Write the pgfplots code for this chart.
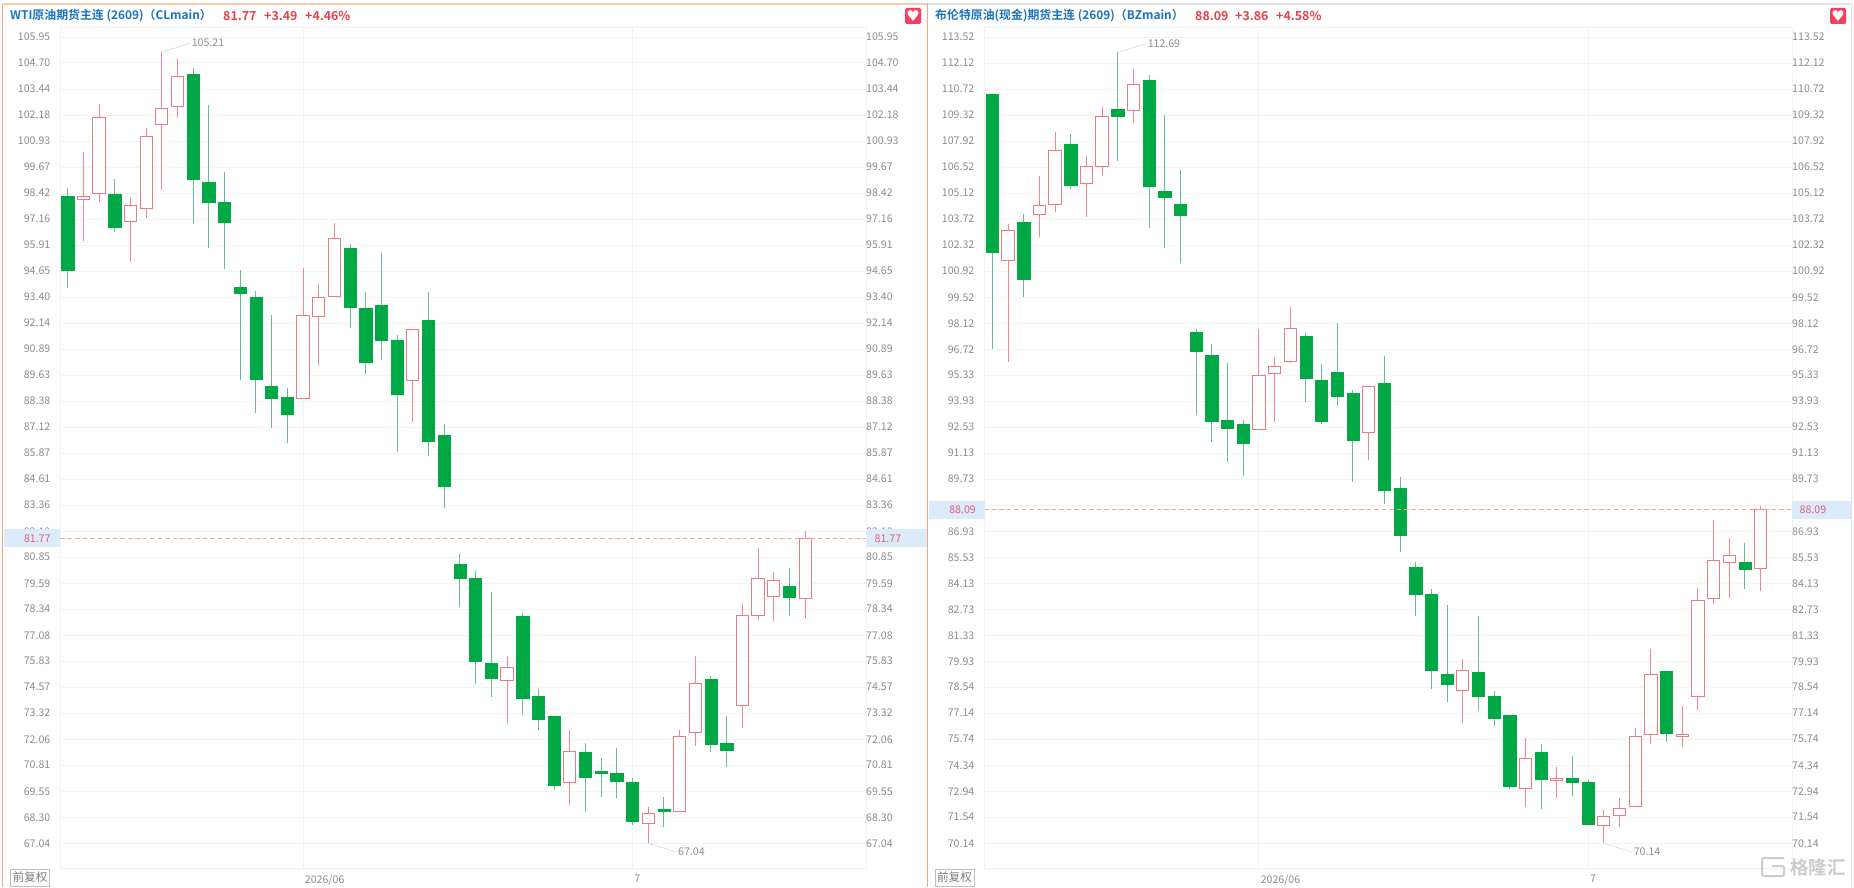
\documentclass[border=0pt]{standalone}
\usepackage{fontspec}
\setmainfont{Noto Sans CJK SC}[BoldFont={Noto Sans CJK SC Bold}]
\newfontfamily\dejavu{DejaVu Sans}
\usepackage{pgfplots}
\pgfplotsset{compat=1.18}
\definecolor{tickc}{HTML}{8C8C8C}
\definecolor{gridc}{HTML}{F3F3F3}
\definecolor{upc}{HTML}{EC7A82}
\definecolor{upw}{HTML}{EE8890}
\definecolor{dnc}{HTML}{00A846}
\definecolor{dnw}{HTML}{68BC92}
\definecolor{titleb}{HTML}{1B75BC}
\definecolor{redt}{HTML}{E8414A}
\definecolor{framec}{HTML}{F2A878}
\definecolor{framet}{HTML}{F6CDA8}
\definecolor{frameg}{HTML}{E4E4E4}
\definecolor{tagb}{HTML}{DCEBFB}
\definecolor{tagt}{HTML}{E0616A}
\definecolor{heart}{HTML}{F4405F}
\definecolor{dashc}{HTML}{F5A873}
% #1 position, #2 low, #3 body bottom, #4 body top, #5 high
\newcommand\up[5]{%
  \pgfmathsetmacro\xl{#1-0.39}\pgfmathsetmacro\xr{#1+0.39}%
  \addplot[upw,line width=1pt,forget plot] coordinates {(#1,#2)(#1,#5)};
  \addplot[draw=upc,fill=white,line width=1pt,forget plot] coordinates {(\xl,#3)(\xr,#3)(\xr,#4)(\xl,#4)} -- cycle;
}
\newcommand\dn[5]{%
  \pgfmathsetmacro\xl{#1-0.39}\pgfmathsetmacro\xr{#1+0.39}%
  \addplot[dnw,line width=1pt,forget plot] coordinates {(#1,#2)(#1,#5)};
  \addplot[draw=dnc,fill=dnc,line width=.6pt,forget plot] coordinates {(\xl,#3)(\xr,#3)(\xr,#4)(\xl,#4)} -- cycle;
}
\pgfplotsset{
  kbase/.style={
    scale only axis, width=#1, height=841pt, anchor=south west,
    major tick length=0pt, tick style={draw=none},
    axis line style={draw=gridc},
    grid=major, grid style={draw=gridc,line width=.8pt},
    tick label style={font=\fontsize{10.6}{12}\selectfont,text=tickc},
    /pgf/number format/.cd,assume math mode=true,fixed,fixed zerofill,precision=2,set thousands separator={},
    /pgfplots/.cd,
    yticklabel style={inner sep=0pt,xshift=-9.5pt},
    xticklabel style={inner sep=0pt,anchor=north west,xshift=1.7pt,yshift=-6.5pt},
    clip=false,
  },
  rlabels/.style={
    hide x axis, axis y line*=right, axis line style={draw=none},
    grid=none, xtick=\empty,
    yticklabel style={inner sep=0pt,xshift=9.5pt,anchor=west},
  }
}
\begin{document}
\begin{tikzpicture}
\path[use as bounding box,fill=white] (0pt,0pt) rectangle (1854pt,887pt);
% ---------- frames
\draw[framet,line width=1.4pt] (2.7pt,883pt) -- (927.7pt,883pt);
\draw[framec,line width=1.2pt] (2.7pt,883pt) -- (2.7pt,0pt);
\draw[framec,line width=1.2pt] (927.7pt,883pt) -- (927.7pt,0pt);
\draw[frameg,line width=1.2pt] (928pt,883pt) -- (1851.7pt,883pt) -- (1851.7pt,0pt);
% ---------- WTI
\def\wtiticks{105.95,104.70,103.44,102.18,100.93,99.67,98.42,97.16,95.91,94.65,93.40,92.14,90.89,89.63,88.38,87.12,85.87,84.61,83.36,82.10,80.85,79.59,78.34,77.08,75.83,74.57,73.32,72.06,70.81,69.55,68.30,67.04}
\begin{axis}[kbase=806pt, at={(60pt,19pt)},
  xmin=-0.49, xmax=50.88, ymin=65.85, ymax=106.43,
  xtick={15,36}, xticklabels={2026/06,7},
  ytick=\wtiticks]
\dn{0}{93.85}{94.67}{98.24}{98.65}
\up{1}{96.12}{98.12}{98.26}{100.39}
\up{2}{97.97}{98.41}{102.06}{102.70}
\dn{3}{96.52}{96.77}{98.37}{99.08}
\up{4}{95.11}{97.06}{97.83}{98.17}
\up{5}{97.21}{97.68}{101.17}{101.54}
\up{6}{98.57}{101.74}{102.51}{105.21}
\up{7}{102.10}{102.59}{104.05}{104.89}
\dn{8}{96.94}{99.08}{104.15}{104.44}
\dn{9}{95.77}{97.99}{98.95}{102.65}
\dn{10}{94.74}{96.99}{97.99}{99.43}
\dn{11}{89.40}{93.58}{93.87}{94.71}
\dn{12}{87.79}{89.41}{93.39}{93.71}
\dn{13}{87.09}{88.53}{89.11}{92.53}
\dn{14}{86.34}{87.76}{88.56}{89.01}
\up{15}{88.49}{88.49}{92.49}{94.79}
\up{16}{90.12}{92.45}{93.39}{94.02}
\up{17}{93.44}{93.44}{96.24}{96.99}
\dn{18}{91.91}{92.91}{95.77}{95.95}
\dn{19}{89.67}{90.25}{92.84}{93.66}
\dn{20}{90.36}{91.29}{93.00}{95.51}
\dn{21}{85.94}{88.72}{91.29}{91.55}
\up{22}{87.38}{89.38}{91.84}{91.87}
\dn{23}{85.73}{86.44}{92.26}{93.66}
\dn{24}{83.20}{84.28}{86.73}{87.26}
\dn{25}{78.43}{79.81}{80.52}{81.00}
\dn{26}{74.74}{75.84}{79.81}{80.18}
\dn{27}{74.10}{75.00}{75.72}{79.18}
\up{28}{72.81}{74.88}{75.53}{76.08}
\dn{29}{73.23}{74.06}{78.01}{78.14}
\dn{30}{72.51}{73.04}{74.15}{74.47}
\dn{31}{69.62}{69.85}{73.15}{73.15}
\up{32}{68.89}{69.96}{71.48}{72.51}
\dn{33}{68.56}{70.25}{71.44}{71.86}
\dn{34}{69.29}{70.40}{70.51}{71.14}
\dn{35}{69.21}{70.01}{70.44}{71.62}
\dn{36}{67.92}{68.08}{70.00}{70.17}
\up{37}{67.04}{68.02}{68.47}{68.80}
\dn{38}{67.81}{68.60}{68.69}{69.26}
\up{39}{68.58}{68.58}{72.20}{72.51}
\up{40}{71.75}{72.38}{74.76}{76.08}
\dn{41}{71.43}{71.82}{74.95}{75.13}
\dn{42}{70.73}{71.51}{71.86}{73.18}
\up{43}{72.62}{73.70}{78.01}{78.59}
\up{44}{77.81}{78.04}{79.83}{81.30}
\up{45}{77.75}{78.97}{79.71}{80.15}
\dn{46}{78.01}{78.91}{79.44}{80.31}
\up{47}{77.93}{78.86}{81.77}{82.12}
\addplot[dashc,dash pattern=on 4.5pt off 3pt,line width=1.1pt,forget plot] coordinates {(-0.49,81.77)(50.88,81.77)};
\draw[gridc!70!gray,line width=.5pt] (axis cs:6,105.21) -- (axis cs:7.8,105.65);
\node[anchor=west,inner sep=0pt,text=tickc,font=\fontsize{10.6}{12}\selectfont] at (axis cs:7.9,105.65) {105.21};
\draw[gridc!70!gray,line width=.5pt] (axis cs:37,67.04) -- (axis cs:38.8,66.62);
\node[anchor=west,inner sep=0pt,text=tickc,font=\fontsize{10.6}{12}\selectfont] at (axis cs:38.9,66.62) {67.04};
\end{axis}
\begin{axis}[kbase=806pt, rlabels, at={(60pt,19pt)},
  xmin=-0.49, xmax=50.88, ymin=65.85, ymax=106.43, ytick=\wtiticks]
\end{axis}
% ---------- Brent
\def\brtticks{113.52,112.12,110.72,109.32,107.92,106.52,105.12,103.72,102.32,100.92,99.52,98.12,96.72,95.33,93.93,92.53,91.13,89.73,88.33,86.93,85.53,84.13,82.73,81.33,79.93,78.54,77.14,75.74,74.34,72.94,71.54,70.14}
\def\brtlabels{113.52,112.12,110.72,109.32,107.92,106.52,105.12,103.72,102.32,100.92,99.52,98.12,96.72,95.33,93.93,92.53,91.13,89.73,,86.93,85.53,84.13,82.73,81.33,79.93,78.54,77.14,75.74,74.34,72.94,71.54,70.14}
\begin{axis}[kbase=808pt, at={(984pt,19pt)},
  xmin=-0.53, xmax=51, ymin=68.81, ymax=114.06,
  xtick={17,38}, xticklabels={2026/06,7},
  ytick=\brtticks, yticklabels/.expanded={\brtlabels}]
\dn{0}{96.72}{101.95}{110.45}{110.45}
\up{1}{96.05}{101.51}{103.12}{103.44}
\dn{2}{99.52}{100.47}{103.57}{103.98}
\up{3}{102.78}{103.98}{104.43}{106.04}
\up{4}{104.09}{104.52}{107.44}{108.43}
\dn{5}{105.33}{105.54}{107.76}{108.30}
\up{6}{103.82}{105.65}{106.56}{107.12}
\up{7}{106.04}{106.56}{109.25}{109.74}
\dn{8}{106.85}{109.27}{109.63}{112.69}
\up{9}{108.88}{109.58}{110.99}{111.80}
\dn{10}{103.26}{105.47}{111.21}{111.49}
\dn{11}{102.17}{104.87}{105.22}{109.31}
\dn{12}{101.34}{103.94}{104.54}{106.36}
\dn{13}{93.17}{96.59}{97.61}{97.79}
\dn{14}{91.71}{92.86}{96.40}{96.99}
\dn{15}{90.64}{92.48}{92.91}{95.96}
\dn{16}{89.90}{91.68}{92.66}{92.91}
\up{17}{92.41}{92.41}{95.32}{97.81}
\up{18}{92.82}{95.43}{95.78}{96.32}
\up{19}{96.00}{96.05}{97.85}{99.01}
\dn{20}{93.88}{95.14}{97.43}{97.58}
\dn{21}{92.70}{92.86}{95.07}{95.93}
\dn{22}{93.67}{94.21}{95.50}{98.12}
\dn{23}{89.60}{91.84}{94.35}{94.53}
\up{24}{90.76}{92.25}{94.73}{94.76}
\dn{25}{88.38}{89.11}{94.89}{96.36}
\dn{26}{85.80}{86.69}{89.26}{89.86}
\dn{27}{82.39}{83.52}{85.01}{85.29}
\dn{28}{78.44}{79.45}{83.54}{83.81}
\dn{29}{77.76}{78.70}{79.21}{82.96}
\up{30}{76.60}{78.35}{79.45}{80.04}
\dn{31}{77.24}{78.03}{79.34}{82.39}
\dn{32}{76.45}{76.88}{78.05}{78.35}
\dn{33}{73.06}{73.19}{77.01}{77.01}
\up{34}{72.11}{73.10}{74.71}{75.82}
\dn{35}{71.97}{73.58}{75.04}{75.47}
\up{36}{72.59}{73.53}{73.64}{74.26}
\dn{37}{72.69}{73.40}{73.64}{74.85}
\dn{38}{71.11}{71.14}{73.40}{73.55}
\up{39}{70.14}{71.11}{71.56}{71.93}
\up{40}{71.03}{71.61}{72.00}{72.59}
\up{41}{72.11}{72.11}{75.88}{76.36}
\up{42}{75.48}{76.01}{79.23}{80.58}
\dn{43}{75.61}{76.04}{79.37}{79.37}
\up{44}{75.34}{75.86}{76.01}{77.54}
\up{45}{77.31}{78.05}{83.19}{83.86}
\up{46}{83.02}{83.30}{85.34}{87.53}
\up{47}{83.32}{85.24}{85.64}{86.55}
\dn{48}{83.81}{84.86}{85.24}{86.28}
\up{49}{83.71}{84.91}{88.09}{88.30}
\addplot[dashc,dash pattern=on 4.5pt off 3pt,line width=1.1pt,forget plot] coordinates {(-0.53,88.09)(51,88.09)};
\draw[gridc!70!gray,line width=.5pt] (axis cs:8,112.69) -- (axis cs:9.8,113.17);
\node[anchor=west,inner sep=0pt,text=tickc,font=\fontsize{10.6}{12}\selectfont] at (axis cs:9.9,113.17) {112.69};
\draw[gridc!70!gray,line width=.5pt] (axis cs:39,70.14) -- (axis cs:40.8,69.66);
\node[anchor=west,inner sep=0pt,text=tickc,font=\fontsize{10.6}{12}\selectfont] at (axis cs:40.9,69.66) {70.14};
\end{axis}
\begin{axis}[kbase=808pt, rlabels, at={(984pt,19pt)},
  xmin=-0.53, xmax=51, ymin=68.81, ymax=114.06, ytick=\brtticks, yticklabels/.expanded={\brtlabels}]
\end{axis}
% ---------- price tags
\fill[tagb] (4pt,357.7pt) rectangle (60pt,340.3pt);
\fill[tagb] (866.7pt,357.7pt) rectangle (926.5pt,340.3pt);
\fill[tagb] (929pt,385.5pt) rectangle (984.5pt,368pt);
\fill[tagb] (1791.5pt,385.5pt) rectangle (1850.5pt,368pt);
\begin{scope}[every node/.style={inner sep=0pt,text=tagt,font=\fontsize{10.6}{12}\selectfont}]
\node[anchor=east] at (50.7pt,348.7pt) {81.77};
\node[anchor=west] at (874.5pt,348.7pt) {81.77};
\node[anchor=east] at (976pt,377pt) {88.09};
\node[anchor=west] at (1799.5pt,377pt) {88.09};
\end{scope}
% ---------- titles
\begin{scope}[every node/.style={inner sep=0pt,anchor=west,font=\fontsize{11.9}{13}\selectfont\bfseries}]
\node[text=titleb] at (10pt,871pt) {WTI原油期货主连 (2609)（CLmain）};
\node[text=titleb] at (935pt,871pt) {布伦特原油(现金)期货主连 (2609)（BZmain）};
\end{scope}
\begin{scope}[every node/.style={inner sep=0pt,anchor=west,font=\fontsize{12.4}{13}\selectfont\bfseries}]
\node[text=redt] at (223pt,871pt) {81.77};
\node[text=redt] at (264pt,871pt) {+3.49};
\node[text=redt] at (305pt,871pt) {+4.46\%};
\node[text=redt] at (1195pt,871pt) {88.09};
\node[text=redt] at (1235pt,871pt) {+3.86};
\node[text=redt] at (1276pt,871pt) {+4.58\%};
\end{scope}
% ---------- hearts
\fill[heart,rounded corners=1.5pt] (905pt,879pt) rectangle (921pt,863pt);
\node[inner sep=0pt,text=white,font=\dejavu\fontsize{15}{15}\selectfont] at (913pt,871pt) {♥};
\fill[heart,rounded corners=1.5pt] (1830pt,879pt) rectangle (1846pt,863pt);
\node[inner sep=0pt,text=white,font=\dejavu\fontsize{15}{15}\selectfont] at (1838pt,871pt) {♥};
% ---------- adjustment tags
\draw[gray!50,line width=.7pt,fill=white] (10.5pt,18pt) rectangle (49.5pt,1pt);
\node[inner sep=0pt,text=tickc!90!black,font=\fontsize{11.6}{13}\selectfont] at (30pt,9.5pt) {前复权};
\draw[gray!50,line width=.7pt,fill=white] (935pt,18pt) rectangle (974pt,1pt);
\node[inner sep=0pt,text=tickc!90!black,font=\fontsize{11.6}{13}\selectfont] at (954.5pt,9.5pt) {前复权};
% ---------- watermark
\draw[gray!40,line width=2pt,rounded corners=2pt] (1784pt,29pt) -- (1762pt,29pt) -- (1762pt,11pt) -- (1784pt,11pt) -- (1784pt,21pt) -- (1772pt,21pt);
\node[inner sep=0pt,anchor=west,text=gray!40,font=\fontsize{18.5}{20}\selectfont\bfseries] at (1790pt,20pt) {格隆汇};
\end{tikzpicture}
\end{document}
